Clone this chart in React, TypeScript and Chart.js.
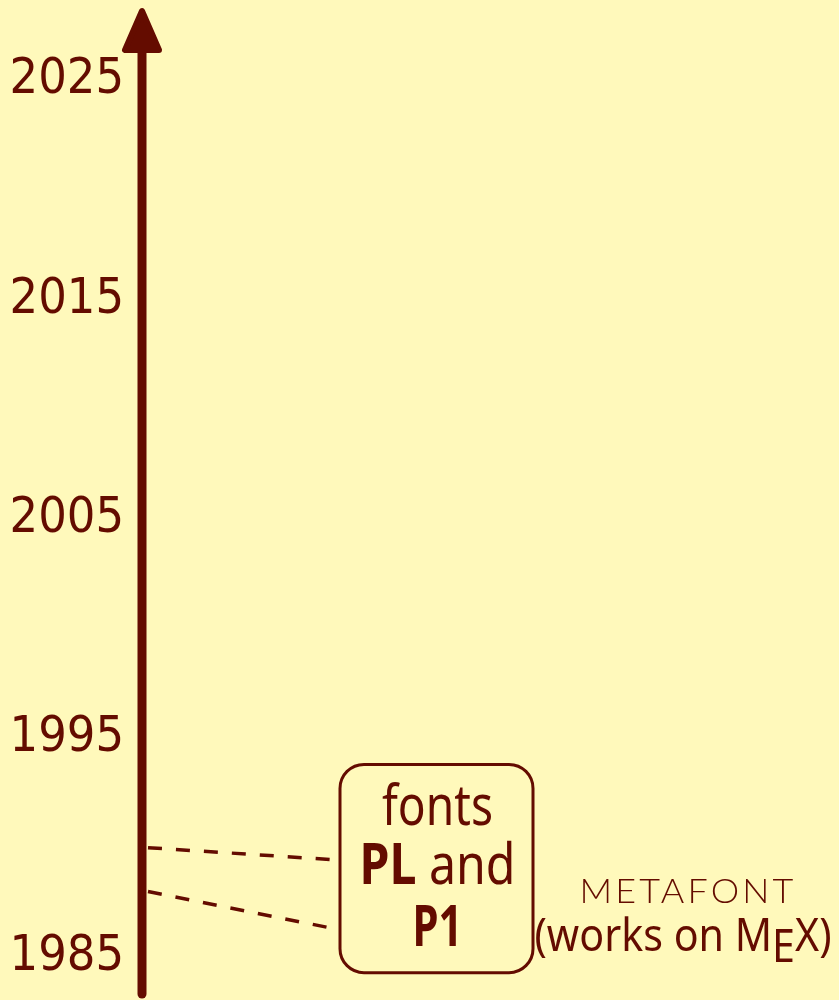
import React, { useEffect, useRef } from "react";
import { Chart, registerables } from "chart.js";

Chart.register(...registerables);

const INK = "#640c00";
const BG = "#fff9bb";

// Timeline axis (years)
const yearTicks = [1985, 1995, 2005, 2015, 2025];
const yearMin = 1983.1;
const yearMax = 2028.3;

// Connector lines: from the timeline (year) to the box
const connectorStartYears = [1990, 1988];
const connectorEndYears = [1989.45, 1986.3];

// Box and text content
const boxLines = [
  [{ t: "fonts", bold: false }],
  [{ t: "PL", bold: true }, { t: " and", bold: false }],
  [{ t: "P1", bold: true }],
];
const sideLabelTop = "METAFONT";
const sideLabelBottom = ["(works on M", "E", "X)"];

// Layout config (x in px-like units from axis)
const X_MAX = 697;
const connectorX = [6, 193];
const boxXRange = [198, 391];
const boxYearRange = [1984.3, 1993.8];
const sideX = 546;
const sideYears = [1987.5, 1985.3];

const FONT = "'DejaVu Sans Condensed', 'DejaVu Sans', sans-serif";
const FONT2 = "'Noto Sans', 'DejaVu Sans', sans-serif";

function fitText(ctx: CanvasRenderingContext2D, parts: { t: string; bold: boolean; dy?: number }[], cx: number, baseline: number, size: number, targetW: number | null, family: string, weight = "normal") {
  const fontFor = (p: any) => `${p.bold ? "bold" : weight} ${size}px ${family}`;
  const widths = parts.map((p) => {
    ctx.font = fontFor(p);
    return ctx.measureText(p.t).width;
  });
  const total = widths.reduce((a, b) => a + b, 0);
  const sx = targetW ? targetW / total : 1;
  ctx.save();
  ctx.translate(cx - (total * sx) / 2, baseline);
  ctx.scale(sx, 1);
  let x = 0;
  parts.forEach((p, i) => {
    ctx.font = fontFor(p);
    ctx.textAlign = "left";
    ctx.textBaseline = "alphabetic";
    ctx.fillText(p.t, x, p.dy || 0);
    x += widths[i];
  });
  ctx.restore();
}

const timelinePlugin = {
  id: "timeline",
  beforeDatasetsDraw(chart: any) {
    const { ctx, chartArea } = chart;
    const yS = chart.scales.y;
    const ax = chartArea.left;
    const top = yS.getPixelForValue(yearMax);
    const bottom = yS.getPixelForValue(yearMin);
    ctx.save();
    ctx.strokeStyle = INK;
    ctx.fillStyle = INK;
    ctx.lineWidth = 9;
    ctx.lineCap = "round";
    ctx.beginPath();
    ctx.moveTo(ax, bottom - 5);
    ctx.lineTo(ax, top + 40);
    ctx.stroke();
    // arrow head
    ctx.lineJoin = "round";
    ctx.lineWidth = 6;
    ctx.beginPath();
    ctx.moveTo(ax, top + 3);
    ctx.lineTo(ax - 17, top + 42);
    ctx.lineTo(ax + 17, top + 42);
    ctx.closePath();
    ctx.fill();
    ctx.stroke();
    ctx.restore();
  },
  afterDatasetsDraw(chart: any) {
    const { ctx } = chart;
    const xS = chart.scales.x;
    const yS = chart.scales.y;
    const x0 = xS.getPixelForValue(boxXRange[0]);
    const x1 = xS.getPixelForValue(boxXRange[1]);
    const y0 = yS.getPixelForValue(boxYearRange[1]);
    const y1 = yS.getPixelForValue(boxYearRange[0]);
    ctx.save();
    ctx.strokeStyle = INK;
    ctx.fillStyle = INK;
    ctx.lineWidth = 3;
    ctx.beginPath();
    (ctx as any).roundRect(x0, y0, x1 - x0, y1 - y0, 24);
    ctx.stroke();
    const cx = (x0 + x1) / 2 + 1;
    const widthsTarget = [111, 156, 50];
    const offs = [61, 120, 182];
    boxLines.forEach((line, i) => {
      fitText(ctx, line, cx, y0 + offs[i], 57, widthsTarget[i], FONT2);
    });
    const sx = xS.getPixelForValue(sideX);
    const b1 = yS.getPixelForValue(sideYears[0]);
    const b2 = yS.getPixelForValue(sideYears[1]);
    (ctx as any).letterSpacing = "3px";
    fitText(ctx, [{ t: sideLabelTop, bold: false }], sx, b1, 34, 217, "'Lato', 'Noto Sans', sans-serif", "300");
    (ctx as any).letterSpacing = "0px";
    fitText(
      ctx,
      [
        { t: sideLabelBottom[0], bold: false },
        { t: sideLabelBottom[1], bold: false, dy: 11 },
        { t: sideLabelBottom[2], bold: false },
      ],
      sx - 5,
      b2,
      46,
      297,
      FONT2,
      "normal"
    );
    ctx.restore();
  },
};

export default function App() {
  const ref = useRef<HTMLCanvasElement | null>(null);
  useEffect(() => {
    document.body.style.margin = "0";
    document.body.style.background = BG;
    const canvas = ref.current!;
    const chart = new Chart(canvas, {
      type: "scatter",
      data: {
        datasets: connectorStartYears.map((y, i) => ({
          data: [
            { x: connectorX[0], y },
            { x: connectorX[1], y: connectorEndYears[i] },
          ],
          showLine: true,
          borderColor: INK,
          borderWidth: 3.5,
          borderDash: [14, 14],
          pointRadius: 0,
          fill: false,
        })),
      },
      options: {
        responsive: false,
        animation: false,
        layout: { padding: { top: 8, bottom: 1, left: 0, right: 0 } },
        plugins: { legend: { display: false }, tooltip: { enabled: false } },
        scales: {
          x: { type: "linear", min: 0, max: X_MAX, display: false },
          y: {
            type: "linear",
            min: yearMin,
            max: yearMax,
            afterFit: (s: any) => {
              s.width = 142;
              s.paddingTop = 0;
              s.paddingBottom = 0;
            },
            afterBuildTicks: (s: any) => {
              s.ticks = yearTicks.map((v) => ({ value: v }));
            },
            border: { display: false },
            grid: { display: false, drawTicks: false },
            ticks: {
              color: INK,
              padding: 18,
              font: { family: FONT, size: 50 },
              callback: (v: any) => String(v),
            },
          },
        },
      },
      plugins: [timelinePlugin],
    });
    return () => chart.destroy();
  }, []);
  return (
    <div style={{ width: 839, height: 1000, background: BG }}>
      <canvas ref={ref} width={839} height={1000} style={{ display: "block" }} />
    </div>
  );
}
